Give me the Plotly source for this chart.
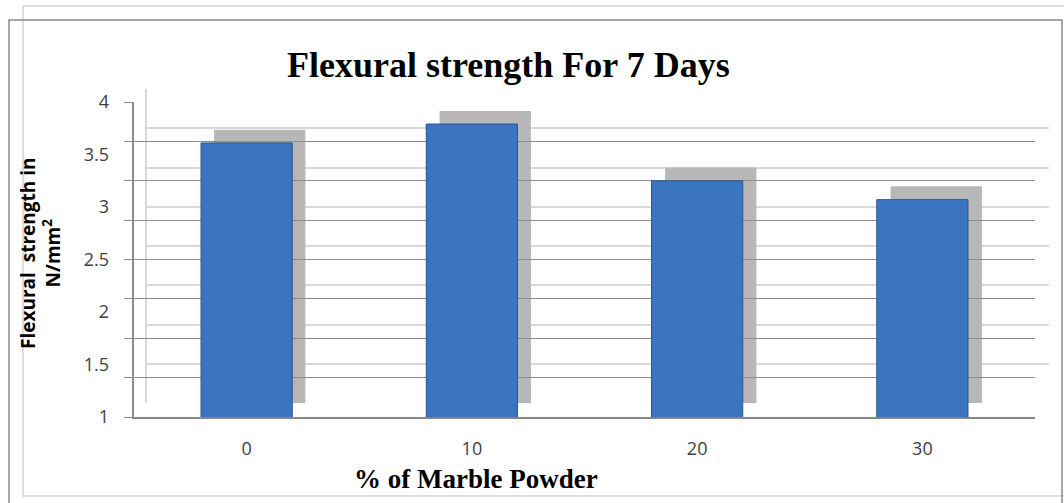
import plotly.graph_objects as go

W, H = 1064, 503

categories = ["0", "10", "20", "30"]
strength = [3.61, 3.79, 3.25, 3.07]
y_ticks = [1, 1.5, 2, 2.5, 3, 3.5, 4]
y_tick_text = ["1", "1.5", "2", "2.5", "3", "3.5", "4"]

title_text = "<b>Flexural strength For 7 Days</b>"
x_title = "<b>% of Marble Powder</b>"
y_title = "<b>Flexural  strength in<br>N/mm<sup>2</sup></b>"


def px_x(v):
    return v / W


def px_y(v):
    return 1 - v / H


fig = go.Figure()

# back wall shadows
fig.add_trace(go.Bar(
    x=categories, y=strength, xaxis="x", yaxis="y",
    marker=dict(color="#b7b7b7", line=dict(width=0)),
    width=0.405, hoverinfo="skip", showlegend=False,
))

# front bars
fig.add_trace(go.Bar(
    x=categories, y=strength, xaxis="x2", yaxis="y2",
    marker=dict(color="#3b74c0", line=dict(color="#2a5690", width=1)),
    width=0.405, showlegend=False,
))

# label axis carrier
fig.add_trace(go.Scatter(
    x=categories, y=strength, xaxis="x2", yaxis="y3",
    mode="markers", marker=dict(opacity=0), hoverinfo="skip", showlegend=False,
))

tick_font = dict(family="Open Sans, Liberation Sans, sans-serif", size=18, color="#404040")

fig.update_layout(
    template="none",
    width=W, height=H, autosize=False,
    margin=dict(l=0, r=0, t=0, b=0, pad=0),
    paper_bgcolor="white", plot_bgcolor="rgba(0,0,0,0)",
    barmode="overlay",
    xaxis=dict(
        domain=[px_x(147), px_x(1049)], anchor="y", automargin=False,
        type="category", categoryorder="array", categoryarray=categories,
        showticklabels=False, showline=False, showgrid=False, zeroline=False,
        ticks="", fixedrange=True,
    ),
    yaxis=dict(
        domain=[px_y(403), px_y(89)], anchor="x", automargin=False,
        range=[1, 4], tick0=1, dtick=0.375, tickmode="linear",
        showticklabels=False, showgrid=True, gridcolor="#d9d9d9", gridwidth=1.5,
        showline=True, linecolor="#d9d9d9", linewidth=1.5, zeroline=False,
        ticks="", fixedrange=True,
    ),
    xaxis2=dict(
        domain=[px_x(134), px_x(1035)], anchor="y2", automargin=False,
        type="category", categoryorder="array", categoryarray=categories,
        showline=True, linecolor="#868686", linewidth=1.5, showgrid=False,
        zeroline=False,
        ticks="", tickfont=tick_font, ticklabelstandoff=15,
        fixedrange=True,
    ),
    yaxis2=dict(
        domain=[px_y(417), px_y(102)], anchor="x2", automargin=False,
        range=[1, 4], tick0=1, dtick=0.375, tickmode="linear",
        showticklabels=False, showgrid=True, gridcolor="#8c8c8c", gridwidth=1.2,
        showline=True, linecolor="#8c8c8c", linewidth=1.5, zeroline=False,
        ticks="outside", ticklen=8, tickcolor="#8c8c8c", tickwidth=1.2,
        fixedrange=True,
    ),
    yaxis3=dict(
        overlaying="y2", anchor="x2", side="left", automargin=False,
        range=[1, 4], tickmode="array", tickvals=y_ticks, ticktext=y_tick_text,
        showgrid=False, showline=False, zeroline=False, ticks="",
        tickfont=tick_font, ticklabelstandoff=24,
        fixedrange=True,
    ),
    shapes=[
        dict(type="rect", xref="paper", yref="paper",
             x0=px_x(23), x1=px_x(1070), y0=px_y(496), y1=px_y(6),
             line=dict(color="#d4d4d4", width=1.5), layer="below"),
        dict(type="rect", xref="paper", yref="paper",
             x0=px_x(9), x1=px_x(1062), y0=px_y(510), y1=px_y(20),
             line=dict(color="#8a8a8a", width=1.5), layer="below"),
    ],
    annotations=[
        dict(text=title_text, xref="paper", yref="paper",
             x=px_x(508), y=px_y(65), xanchor="center", yanchor="middle",
             showarrow=False,
             font=dict(family="Liberation Serif, Times New Roman, serif", size=36, color="black")),
        dict(text=x_title, xref="paper", yref="paper",
             x=px_x(476), y=px_y(479), xanchor="center", yanchor="middle",
             showarrow=False,
             font=dict(family="Liberation Serif, Times New Roman, serif", size=27, color="black")),
        dict(text=y_title, xref="paper", yref="paper",
             x=px_x(40), y=px_y(254), xanchor="center", yanchor="middle",
             showarrow=False, textangle=-90,
             font=dict(family="Open Sans, Liberation Sans, sans-serif", size=19, color="black")),
    ],
)

fig.write_html(
    "out.html",
    config={"displayModeBar": False},
    post_script="document.body.style.margin='0';document.body.style.overflow='hidden';",
)
